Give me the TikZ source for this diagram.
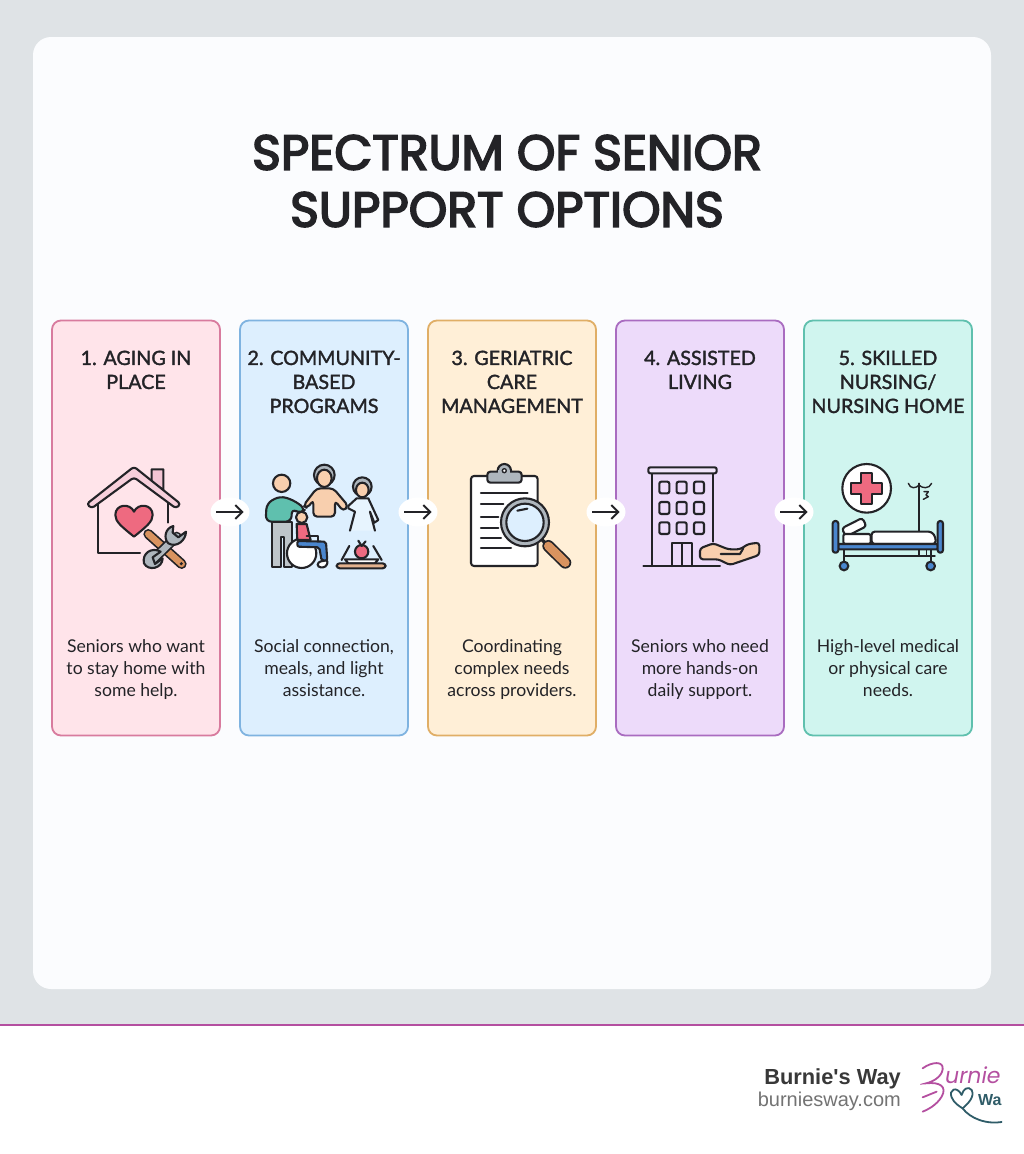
\documentclass[tikz,border=0pt]{standalone}
\usepackage{fontspec}
\usepackage{xcolor}
\usetikzlibrary{positioning,calc,arrows.meta,shapes.geometric}
\setmainfont{Lato}
\newfontfamily\titlefont{Poppins}
\newfontfamily\footfont{Liberation Sans}

\definecolor{ink}{HTML}{232327}
\definecolor{backdrop}{HTML}{DFE3E6}
\definecolor{sheet}{HTML}{FBFCFE}
\definecolor{pinkfill}{HTML}{FFE4EA}
\definecolor{pinkline}{HTML}{D87B9E}
\definecolor{bluefill}{HTML}{DDEFFE}
\definecolor{blueline}{HTML}{7FB3E0}
\definecolor{orangefill}{HTML}{FFEFD7}
\definecolor{orangeline}{HTML}{E0AE66}
\definecolor{purplefill}{HTML}{EDDBFA}
\definecolor{purpleline}{HTML}{A96CC0}
\definecolor{tealfill}{HTML}{D0F5EF}
\definecolor{tealline}{HTML}{5FC0AE}
\definecolor{heartred}{HTML}{EE6A80}
\definecolor{toolgrey}{HTML}{AEB6BD}
\definecolor{tan}{HTML}{D9935F}
\definecolor{skin}{HTML}{F8CFAE}
\definecolor{bedblue}{HTML}{4A86CE}
\definecolor{brand}{HTML}{B44FA0}
\definecolor{logoteal}{HTML}{2F5C68}

\tikzset{
	card/.style={draw,line width=1.8pt,rounded corners=9pt,minimum width=168pt,minimum height=415pt,outer sep=0pt},
	heading/.style={font=\fontsize{19.7}{24}\selectfont\addfontfeature{FakeBold=1.6},text=ink,align=center,anchor=north,inner sep=0pt},
	blurb/.style={font=\fontsize{17.6}{22}\selectfont,text=ink,align=center,anchor=north,inner sep=0pt},
	hop/.style={ellipse,fill=white,minimum width=39pt,minimum height=29pt,inner sep=0pt},
	hopline/.style={-{Straight Barb[length=7pt,width=14pt,line width=2pt]},line width=2pt,draw=ink,shorten <=6pt,shorten >=6pt},
	icon/.style={line width=2.1pt,draw=ink,line join=round,line cap=round},
}

\begin{document}
\begin{tikzpicture}[x=1pt,y=-1pt,node distance=20pt]
	\useasboundingbox (0,0) rectangle (1024,1154);
	\fill[white] (0,0) rectangle (1024,1154);
	\fill[backdrop] (0,0) rectangle (1024,1025);
	\fill[sheet,rounded corners=18pt] (33,37) rectangle (991,989);
	\draw[brand,line width=2.6pt] (0,1025) -- (1024,1025);
	%
	\node[font=\titlefont\addfontfeature{FakeBold=3.6}\fontsize{49}{57}\selectfont,text=ink,align=center,inner sep=0pt] (title) at (507,181) {SPECTRUM OF SENIOR\\SUPPORT OPTIONS};
	%
	\node[card,fill=pinkfill,draw=pinkline] (aging) at (136,528) {};
	\node[card,fill=bluefill,draw=blueline,right=of aging] (community) {};
	\node[card,fill=orangefill,draw=orangeline,right=of community] (geriatric) {};
	\node[card,fill=purplefill,draw=purpleline,right=of geriatric] (assisted) {};
	\node[card,fill=tealfill,draw=tealline,right=of assisted] (skilled) {};
	%
	\node[heading,below=30pt of aging.north,anchor=north] (agingtitle) {1. AGING IN\\PLACE};
	\node[heading,below=30pt of community.north,anchor=north] (communitytitle) {2. COMMUNITY-\\BASED\\PROGRAMS};
	\node[heading,below=30pt of geriatric.north,anchor=north] (geriatrictitle) {3. GERIATRIC\\CARE\\MANAGEMENT};
	\node[heading,below=30pt of assisted.north,anchor=north] (assistedtitle) {4. ASSISTED\\LIVING};
	\node[heading,below=30pt of skilled.north,anchor=north] (skilledtitle) {5. SKILLED\\NURSING/\\NURSING HOME};
	%
	\node[blurb,below=111.5pt of aging.center,anchor=north] (agingtext) {Seniors who want\\to stay home with\\some help.};
	\node[blurb,below=111.5pt of community.center,anchor=north] (communitytext) {Social connection,\\meals, and light\\assistance.};
	\node[blurb,below=111.5pt of geriatric.center,anchor=north] (geriatrictext) {Coordinating\\complex needs\\across providers.};
	\node[blurb,below=111.5pt of assisted.center,anchor=north] (assistedtext) {Seniors who need\\more hands-on\\daily support.};
	\node[blurb,below=111.5pt of skilled.center,anchor=north] (skilledtext) {High-level medical\\or physical care\\needs.};
	%
	\node[hop] (hop1) at ($(aging.east)!0.5!(community.west)+(0,-16)$) {};
	\node[hop] (hop2) at ($(community.east)!0.5!(geriatric.west)+(0,-16)$) {};
	\node[hop] (hop3) at ($(geriatric.east)!0.5!(assisted.west)+(0,-16)$) {};
	\node[hop] (hop4) at ($(assisted.east)!0.5!(skilled.west)+(0,-16)$) {};
	\draw[hopline] (hop1.west) -- (hop1.east);
	\draw[hopline] (hop2.west) -- (hop2.east);
	\draw[hopline] (hop3.west) -- (hop3.east);
	\draw[hopline] (hop4.west) -- (hop4.east);
	%
	% house and people
	\begin{scope}[shift={(40,440)},x=0.3333pt,y=-0.3333pt]
		\draw[icon] (175,190) -- (175,340) -- (300,340);
		\draw[icon] (385,190) -- (385,248);
		\draw[icon,fill=pinkfill!70!pinkline] (335,125) -- (335,88) -- (370,88) -- (370,150) -- cycle;
		\draw[icon,fill=pinkfill!80!pinkline,rounded corners=3pt] (140,192) -- (282,80) -- (422,192) -- (408,205) -- (282,112) -- (155,205) -- cycle;
		\draw[icon,fill=heartred] (282,290) .. controls (245,260) and (226,245) .. (226,225) .. controls (226,192) and (270,188) .. (282,215) .. controls (294,188) and (338,192) .. (338,225) .. controls (338,245) and (319,260) .. (282,290) -- cycle;
		\draw[line width=10pt,draw=ink,line cap=round] (325,282) -- (425,372);
		\draw[line width=6.6pt,draw=tan,line cap=round] (325,282) -- (425,372);
		\fill[ink] (424,371) circle (5);
		\draw[line width=10pt,draw=ink,line cap=round] (340,358) -- (410,290);
		\draw[line width=6.6pt,draw=toolgrey,line cap=round] (340,358) -- (410,290);
		\draw[icon,fill=toolgrey] (400,258) .. controls (375,265) and (370,295) .. (385,310) .. controls (410,325) and (438,300) .. (438,275) -- (415,292) -- (398,278) -- cycle;
		\draw[icon,fill=toolgrey] (312,370) .. controls (305,340) and (335,320) .. (362,335) -- (338,352) -- (345,372) -- (368,355) .. controls (368,385) and (325,395) .. (312,370) -- cycle;
		% man
		\draw[icon,fill=toolgrey!80!white] (695,245) -- (695,382) -- (722,382) -- (722,290) -- (732,290) -- (732,382) -- (755,382) -- (755,245) -- cycle;
		\draw[icon,fill=tealline,rounded corners=6pt] (677,245) -- (680,190) -- (720,168) -- (760,180) -- (797,207) -- (782,222) -- (755,205) -- (755,245) -- cycle;
		\draw[icon,fill=skin] (725,130) circle (26);
		% middle woman
		\draw[icon,fill=skin,rounded corners=4pt] (790,197) -- (830,145) -- (880,145) -- (925,198) -- (910,214) -- (885,182) -- (885,230) -- (820,230) -- (820,180) -- (802,205) -- cycle;
		\draw[icon,fill=toolgrey] (853,105) circle (31);
		\draw[icon,fill=skin] (853,115) ellipse (22 and 26);
		% right woman
		\draw[icon,fill=bluefill!70!white] (930,272) -- (945,215) -- (925,205) -- (925,198) -- (950,175) -- (985,175) -- (1015,240) -- (1003,248) -- (990,215) -- (1005,272);
		\draw[icon,fill=toolgrey] (967,140) circle (28);
		\draw[icon,fill=skin] (967,150) ellipse (19 and 22);
		% wheelchair
		\draw[icon,fill=white] (785,340) circle (44);
		\draw[icon,fill=heartred] (770,252) -- (800,252) -- (812,300) -- (772,300) -- cycle;
		\draw[icon,fill=bedblue,rounded corners=2pt] (772,303) -- (858,305) -- (862,362) -- (845,362) -- (838,322) -- (772,320) -- cycle;
		\draw[icon] (800,288) -- (835,288) -- (835,303);
		\draw[icon,fill=white,rounded corners=3pt] (833,366) -- (865,360) -- (858,382) -- (833,382) -- cycle;
		\draw[icon,fill=skin] (785,232) circle (17);
		% tray with apple
		\draw[icon] (905,360) -- (928,318);
		\draw[icon] (1025,360) -- (1000,318);
		\draw[icon,fill=white] (915,358) -- (1015,358) -- (1005,370) -- (925,370) -- cycle;
		\draw[icon,fill=tan!70!white,rounded corners=3pt] (890,370) -- (1037,370) -- (1037,385) -- (890,385) -- cycle;
		\draw[icon,fill=heartred] (965,335) circle (20);
		\draw[icon] (965,318) -- (955,302);
		\draw[icon] (965,318) -- (977,304);
	\end{scope}
	%
	% clipboard and building
	\begin{scope}[shift={(400,440)},x=0.3333pt,y=-0.3333pt]
		\draw[icon,fill=white,rounded corners=3pt] (213,108) rectangle (413,378);
		\draw[icon,fill=toolgrey] (313,92) circle (20);
		\draw[icon,fill=toolgrey,rounded corners=3pt] (262,95) rectangle (365,128);
		\fill[toolgrey] (295,90) rectangle (331,110);
		\draw[icon,fill=white,line width=1.4pt] (313,92) circle (6);
		\draw[icon] (243,160) -- (383,160);
		\draw[icon] (243,192) -- (310,192);
		\draw[icon] (243,230) -- (295,230);
		\draw[icon] (243,263) -- (295,263);
		\draw[icon] (243,295) -- (303,295);
		\draw[icon] (243,325) -- (333,325);
		\draw[line width=3.4pt,draw=ink] (420,293) -- (445,318);
		\draw[line width=12pt,draw=ink,line cap=round] (445,318) -- (496,368);
		\draw[line width=8.6pt,draw=tan,line cap=round] (445,318) -- (496,368);
		\draw[icon,fill=toolgrey] (375,247) circle (72);
		\draw[icon,fill=bluefill] (375,247) circle (56);
		\draw[icon] (352,212) -- (382,206);
		% building
		\draw[icon] (755,100) -- (755,378);
		\draw[icon] (938,100) -- (938,305);
		\draw[icon] (730,378) -- (960,378);
		\draw[icon,fill=purplefill!70!white,rounded corners=2pt] (745,82) rectangle (950,100);
		\draw[icon,rounded corners=2pt] (778,125) rectangle (808,160);
		\draw[icon,rounded corners=2pt] (830,125) rectangle (860,160);
		\draw[icon,rounded corners=2pt] (882,125) rectangle (912,160);
		\draw[icon,rounded corners=2pt] (778,186) rectangle (808,222);
		\draw[icon,rounded corners=2pt] (830,186) rectangle (860,222);
		\draw[icon,rounded corners=2pt] (882,186) rectangle (912,222);
		\draw[icon,rounded corners=2pt] (778,247) rectangle (808,282);
		\draw[icon,rounded corners=2pt] (830,247) rectangle (860,282);
		\draw[icon,rounded corners=2pt] (882,247) rectangle (912,282);
		\draw[icon] (815,378) -- (815,310) -- (875,310) -- (875,378);
		\draw[icon] (845,310) -- (845,378);
		\draw[icon,fill=skin,rounded corners=3pt] (900,325) -- (940,310) -- (985,328) -- (1020,328) -- (1045,312) -- (1078,308) -- (1078,345) -- (990,375) -- (955,358) -- (900,358) -- cycle;
		\draw[icon] (962,342) -- (1020,342) -- (1030,325);
	\end{scope}
	%
	% hospital bed
	\begin{scope}[shift={(770,450)},x=0.3333pt,y=-0.3333pt]
		\draw[icon,fill=white] (290,115) circle (73);
		\draw[icon,fill=heartred] (272,68) -- (306,68) -- (306,100) -- (337,100) -- (337,132) -- (306,132) -- (306,163) -- (272,163) -- (272,132) -- (243,132) -- (243,100) -- (272,100) -- cycle;
		\draw[icon,line width=1.4pt] (447,100) -- (447,245);
		\draw[icon,line width=1.4pt] (415,100) .. controls (420,118) and (440,115) .. (447,105) .. controls (455,115) and (478,118) .. (485,100);
		\draw[icon,line width=1.4pt] (462,125) -- (475,125) -- (468,135) -- (475,140) -- (460,148);
		\draw[icon,line width=1.4pt] (447,298) -- (447,318);
		\draw[icon,line width=1.4pt] (470,298) -- (470,318);
		\draw[icon,line width=1.4pt] (222,318) -- (495,318);
		\draw[icon] (222,298) -- (222,335);
		\draw[icon] (482,298) -- (482,335);
		\draw[icon,fill=bedblue] (222,348) circle (13);
		\draw[icon,fill=bedblue] (482,348) circle (13);
		\draw[icon,fill=white,rounded corners=3pt,rotate around={27:(252,232)}] (218,218) rectangle (287,246);
		\draw[icon,fill=white,rounded corners=2pt] (220,252) rectangle (302,282);
		\draw[icon,fill=white,rounded corners=3pt] (305,282) -- (305,245) -- (485,245) -- (497,262) -- (497,282) -- cycle;
		\draw[icon,fill=bedblue,rounded corners=1pt] (205,282) rectangle (503,298);
		\draw[icon,fill=bedblue,rounded corners=2.5pt] (188,213) rectangle (205,308);
		\draw[icon,fill=bedblue,rounded corners=2.5pt] (503,213) rectangle (519,308);
	\end{scope}
	%
	\node[font=\footfont\bfseries\fontsize{21.8}{26}\selectfont,text=black!78,anchor=east,inner sep=0pt] (brandname) at (901,1078.5) {Burnie's Way};
	\node[font=\footfont\fontsize{20}{24}\selectfont,text=black!55,anchor=east,inner sep=0pt] (brandsite) at (901,1101) {burniesway.com};
	%
	% logo, cut off at its right edge
	\begin{scope}
		\clip (920,1050) rectangle (1002,1130);
		\begin{scope}[shift={(740,1040)},x=0.3333pt,y=-0.3333pt]
			\draw[brand,line width=1.8pt,line cap=round] (548,85) .. controls (575,65) and (612,62) .. (608,88) .. controls (605,110) and (580,125) .. (558,130) .. controls (600,125) and (622,140) .. (605,170) .. controls (590,195) and (565,208) .. (548,215);
			\draw[brand,line width=1.8pt,line cap=round] (548,172) -- (590,155);
			\draw[logoteal,line width=1.8pt,line cap=round] (665,165) .. controls (650,135) and (625,150) .. (635,172) .. controls (642,190) and (660,200) .. (668,205) .. controls (685,190) and (705,170) .. (695,150) .. controls (685,138) and (670,145) .. (665,165);
			\draw[logoteal,line width=1.8pt,line cap=round] (668,205) .. controls (690,235) and (740,255) .. (790,245);
		\end{scope}
	\end{scope}
	\node[font=\titlefont\itshape\fontsize{22}{22}\selectfont,text=brand,anchor=base west,inner sep=0pt] (logotop) at (945,1083) {urnie};
	\node[font=\footfont\bfseries\fontsize{16}{16}\selectfont,text=logoteal,anchor=base west,inner sep=0pt] (logobottom) at (978,1105) {Wa};
\end{tikzpicture}
\end{document}
